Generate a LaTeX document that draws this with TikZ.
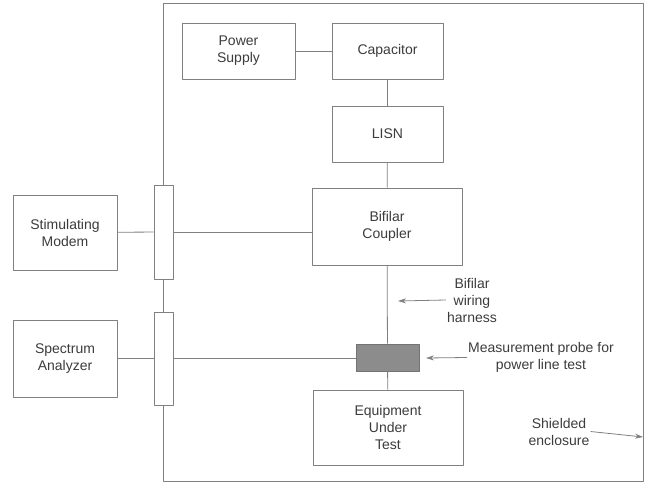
\documentclass[tikz,border=0pt]{standalone}
\usepackage{fontspec}
\setmainfont{Liberation Sans}
\usetikzlibrary{arrows.meta}
\definecolor{linegray}{HTML}{808080}
\definecolor{txtgray}{HTML}{3C3C3C}
\definecolor{probegray}{HTML}{8C8C8C}
\begin{document}
\begin{tikzpicture}[x=1pt, y=-1pt, font=\fontsize{14}{17}\selectfont, line join=round, >={Stealth[length=8pt,width=5pt]},
	blk/.style={draw=linegray, fill=white, text=txtgray, align=center, inner sep=0pt, line width=0.8pt},
	lbl/.style={text=txtgray, align=center, inner sep=1pt},
	wire/.style={draw=linegray, line width=0.8pt}]
	\useasboundingbox (0,0) rectangle (645,484);
	% shielded enclosure
	\draw[wire] (163,3) rectangle (643,481);
	\path
	(398,301) coordinate (hT)
	(426,358) coordinate (pT)
	(643,437) coordinate (wall)
	;
	\node[blk, minimum width=113pt, minimum height=56pt] (ps) at (238.5,51) {Power\\Supply};
	\node[blk, minimum width=111pt, minimum height=56pt] (cap) at (387.5,51) {Capacitor};
	\node[blk, minimum width=111pt, minimum height=56pt] (lisn) at (387.5,134) {LISN};
	\node[blk, minimum width=150pt, minimum height=77pt] (coupler) at (387,226.5) {Bifilar\\Coupler};
	\node[blk, minimum width=150pt, minimum height=75pt] (eut) at (388,427.5) {Equipment\\Under\\Test};
	\node[blk, minimum width=104pt, minimum height=75pt] (modem) at (65,232.5) {Stimulating\\Modem};
	\node[blk, minimum width=104pt, minimum height=77pt] (analyzer) at (65,358.5) {Spectrum\\Analyzer};
	\node[blk, minimum width=19pt, minimum height=94pt] (ft1) at (163.5,232) {};
	\node[blk, minimum width=19pt, minimum height=93pt] (ft2) at (163.5,358.5) {};
	\node[blk, fill=probegray, draw=gray!90!black, minimum width=63pt, minimum height=27pt] (probe) at (387.5,357.5) {};
	
	\foreach \a/\b in {ps/cap, cap/lisn, lisn/coupler, coupler/probe, probe/eut, modem/ft1, analyzer/ft2}{
		\draw[wire] (\a)--(\b);
	}
	\draw[wire] (ft1.east) -- (ft1.east -| coupler.west);
	\draw[wire] (ft2.east) -- (ft2.east -| probe.west);
	
	% callouts
	\node[lbl] (harness) at (472,300) {Bifilar\\wiring\\harness};
	\node[lbl] (plabel) at (541,357.5) {Measurement probe for\\power line test};
	\node[lbl] (shield) at (559,431.5) {Shielded\\enclosure};
	\draw[wire, ->] (harness.west) -- (hT);
	\draw[wire, ->] (plabel.west) -- (pT);
	\draw[wire, ->] (shield.east) -- (wall);
\end{tikzpicture}
\end{document}
